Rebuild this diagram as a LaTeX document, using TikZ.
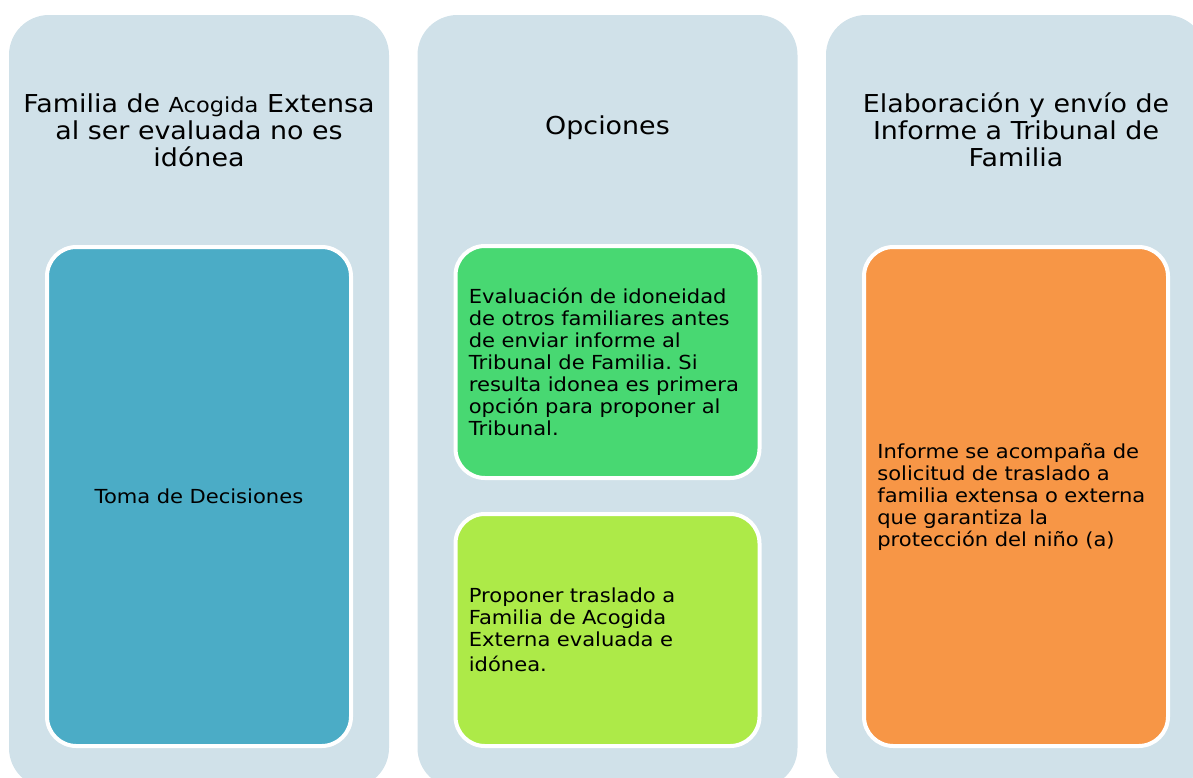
\documentclass[tikz,border=0pt]{standalone}
\usepackage{fontspec}
\setmainfont[FakeStretch=1.09]{DejaVu Sans}
\usepackage{xcolor}
\frenchspacing

\definecolor{colbg}{HTML}{D0E1E9}
\definecolor{tomacol}{HTML}{4BACC6}
\definecolor{evalcol}{HTML}{48D872}
\definecolor{propcol}{HTML}{ADEA48}
\definecolor{infcol}{HTML}{F79646}

\tikzset{
  colbox/.style={fill=colbg, rounded corners=30pt, minimum width=285pt, minimum height=579.75pt, inner sep=0pt},
  itembox/.style={draw=white, line width=3pt, rounded corners=22pt, minimum width=228pt, inner xsep=10pt, text width=208pt, align=left, font=\fontsize{14.5}{16.5}\selectfont},
  titletext/.style={align=center, font=\fontsize{18.5}{20.25}\selectfont}
}

\begin{document}
\begin{tikzpicture}[x=0.75pt, y=-0.75pt]
    \useasboundingbox (0,0) rectangle (1193,778);
    \clip (0,0) rectangle (1193,778);

    \node[colbox] (colA) at (199,401.5) {};
    \node[colbox] (colB) at (607.5,401.5) {};
    \node[colbox] (colC) at (1016,401.5) {};

    \node[titletext] (titleA) at (199,130) {Familia de {\fontsize{15.5}{20.25}\selectfont Acogida} Extensa\\al ser evaluada no es\\idónea};
    \node[titletext] (titleB) at (607.5,128) {Opciones};
    \node[titletext] (titleC) at (1016,130) {Elaboración y envío de\\Informe a Tribunal de\\Familia};

    \node[itembox, fill=tomacol, minimum height=374.25pt, align=center] (toma) at (199,496.5) {Toma de Decisiones};
    \node[itembox, fill=evalcol, minimum height=174pt] (evalua) at (607.5,362) {Evaluación de idoneidad\\de otros familiares antes\\de enviar informe al\\Tribunal de Familia. Si\\resulta idonea es primera\\opción para proponer al\\Tribunal.};
    \node[itembox, fill=propcol, minimum height=174pt] (propone) at (607.5,630) {Proponer traslado a\\Familia de Acogida\\Externa evaluada e\\[2pt]idónea.};
    \node[itembox, fill=infcol, minimum height=374.25pt] (informe) at (1016,496.5) {Informe se acompaña de\\solicitud de traslado a\\familia extensa o externa\\que garantiza la\\protección del niño (a)};
\end{tikzpicture}
\end{document}
